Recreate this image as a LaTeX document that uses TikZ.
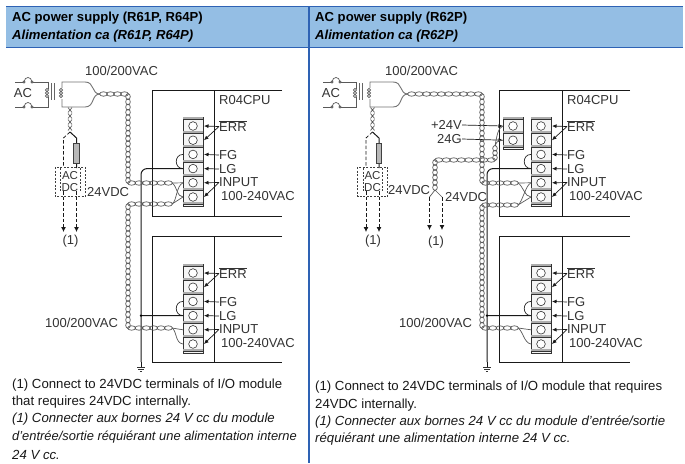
\documentclass[tikz,border=0pt]{standalone}
\usepackage{fontspec}
\setmainfont{Liberation Sans}
\usetikzlibrary{arrows.meta}
\definecolor{headblue}{HTML}{94BEE4}
\definecolor{ruleblue}{HTML}{2E62B4}
\definecolor{inkgrey}{HTML}{333333}
\tikzset{
    lbl/.style={inner sep=0pt,font=\fontsize{13}{15}\selectfont,text=inkgrey,anchor=west},
    rlbl/.style={lbl,anchor=east},
    note/.style={inner sep=0pt,font=\fontsize{13.2}{15}\selectfont,text=black!90,anchor=west},
    head/.style={inner sep=0pt,font=\bfseries\fontsize{13.1}{15}\selectfont,text=black,anchor=west},
    wire/.style={line width=1pt,black!90},
    feed/.style={line width=0.9pt,black!55},
    strand/.style={line width=0.7pt,black!65},
    dashwire/.style={line width=0.8pt,black!90,dash pattern=on 3.5pt off 2pt},
    boxdash/.style={line width=0.7pt,black!75,dash pattern=on 2pt off 1.5pt},
    point/.style={-{Latex[length=4.5pt,width=4pt]},line width=0.7pt,black!90},
}
% twisted pair, vertical and horizontal runs of links
\newcommand{\twv}[3]{%
    \pgfmathtruncatemacro{\nlink}{round(abs(#3-#2)/5.3)}
    \foreach \i in {1,...,\nlink} {
        \draw[strand] (#1,{#2+(#3-#2)*(\i-0.5)/\nlink}) ellipse [x radius=2.3,y radius={abs(#3-#2)/\nlink/2+0.4}];
    }
}
\newcommand{\twh}[3]{%
    \pgfmathtruncatemacro{\nlink}{round(abs(#3-#2)/7.2)}
    \foreach \i in {1,...,\nlink} {
        \draw[strand] ({#2+(#3-#2)*(\i-0.5)/\nlink},#1) ellipse [x radius={abs(#3-#2)/\nlink/2+0.4},y radius=2.2];
    }
}
% terminal block: name, x, top y, rows
\newcommand{\terminals}[4]{%
    \draw[line width=0.6pt,black!80,fill=black!4] (#2,#3) rectangle ({#2+20},{#3+#4*14.2+4});
    \foreach \k in {0,...,#4} {
        \fill[black!32] (#2,{#3+\k*14.2}) rectangle ({#2+20},{#3+\k*14.2+2.2});
        \draw[line width=0.5pt,black!80] (#2,{#3+\k*14.2+2.2}) -- ({#2+20},{#3+\k*14.2+2.2});
    }
    \foreach \k in {1,...,#4} {
        \draw[line width=0.6pt,black!80,fill=white] ({#2+10},{#3+\k*14.2-5.2}) circle (4.3);
        \coordinate (#1-\k) at ({#2+21},{#3+\k*14.2-5.2});
        \coordinate (#1-\k-l) at (#2,{#3+\k*14.2-5.2});
    }
}
% labelled six row block of the CPU module
\newcommand{\cpublock}[3]{%
    \terminals{#1}{#2}{#3}{6}
    \node[lbl] (#1err) at ({#2+36},{#3+9.5}) {$\overline{\mbox{ERR}}$};
    \node[lbl] (#1fg) at ({#2+36},{#3+38}) {FG};
    \node[lbl] (#1lg) at ({#2+36},{#3+52}) {LG};
    \node[lbl] (#1in) at ({#2+36},{#3+65.5}) {INPUT};
    \node[lbl] (#1vac) at ({#2+38},{#3+79.5}) {100-240VAC};
    \draw[point] (#1err.west) -- (#1-1);
    \draw[point] (#1err.west) -- (#1-2);
    \draw[point] (#1fg.west) -- (#1-3);
    \draw[point] (#1lg.west) -- (#1-4);
    \draw[point] (#1in.west) -- (#1-5);
    \draw[point] (#1in.west) -- (#1-6);
    \draw[strand,black!85] (#1-3-l) .. controls +(-9,0) and +(-9,0) .. (#1-4-l);
}
% mains side with contacts and transformer
\newcommand{\mainsside}{%
    \node[lbl,anchor=center] (ac) at (23,93) {AC};
    \draw[strand] (15,82) -- (23,82) (33,82) -- (48,82) -- (48,89) (48,97) -- (48,107) -- (33,107) (23,107) -- (15,107);
    \foreach \y in {82,107} {
        \draw[strand] (24,\y) .. controls ({24.5},{\y-6}) and ({31.5},{\y-6}) .. (32,\y);
        \draw[strand,fill=white] (24,\y) circle (1.1);
        \draw[strand,fill=white] (32,\y) circle (1.1);
    }
    \foreach \y in {90,93,96} {
        \draw[strand] (47,\y) circle (1.7);
        \draw[strand] (61,\y) circle (1.7);
    }
    \draw[line width=0.9pt,black!60] (51.5,83) -- (51.5,100) (54,83) -- (54,100);
    \draw[feed] (62,88) -- (62,82) -- (85,82) .. controls (95,82) and (91,94) .. (100,94);
    \draw[feed] (62,99) -- (62,107) -- (85,107) .. controls (95,107) and (91,94) .. (100,94);
}
% fuse, converter and the outlets to (1)
\newcommand{\dcside}{%
    \foreach \y in {110,116,122,128} {
        \draw[strand] (68,{\y-2.4}) -- (72,{\y+2.4}) (72,{\y-2.4}) -- (68,{\y+2.4});
    }
    \draw[dashwire] (70,132) -- (63.5,138) -- (63.5,167);
    \draw[wire] (70,132) -- (76.5,138) -- (76.5,143) (76.5,163) -- (76.5,168);
    \draw[strand,black!75,fill=black!28] (73.8,143) rectangle (79.2,163);
    \draw[boxdash] (55,167) rectangle (85,196.5);
    \draw[boxdash] (60.5,168) -- (60.5,192) (80,168) -- (80,192);
    \node[lbl,anchor=center,align=center,font=\fontsize{11.5}{12}\selectfont] (acdc) at (70,181.5) {AC\\DC};
    \coordinate (outa) at (63.5,191);
    \coordinate (outb) at (76.5,191);
    \coordinate (enda) at (63.5,232);
    \coordinate (endb) at (76.5,232);
    \draw[dashwire,-{Latex[length=5pt,width=5pt]}] (outa) -- (enda);
    \draw[dashwire,-{Latex[length=5pt,width=5pt]}] (outb) -- (endb);
    \node[lbl,anchor=center] (one) at (70.5,241.5) {(1)};
}
% ground at the foot of the earth wire
\newcommand{\earth}[1]{%
    \draw[wire] (#1,362) -- (#1,367);
    \draw[line width=0.7pt,black!80] ({#1-4},367) -- ({#1+4},367) ({#1-2.6},369.3) -- ({#1+2.6},369.3) ({#1-1.2},371.6) -- ({#1+1.2},371.6);
}
\begin{document}
\begin{tikzpicture}[x=1pt,y=-1pt]
    \useasboundingbox (0,0) rectangle (685,463);
    \fill[white] (0,0) rectangle (685,463);
    % table
    \fill[headblue] (6,6.5) rectangle (683,47.5);
    \draw[ruleblue,line width=1.3pt] (6,6.5) -- (683,6.5);
    \draw[ruleblue,line width=1.3pt] (6,47.5) -- (683,47.5);
    \draw[ruleblue,line width=1.3pt] (309,6.5) -- (309,463);
    \node[head] (titlea) at (12,18) {AC power supply (R61P, R64P)};
    \node[head] (titleb) at (12,36) {\itshape Alimentation ca (R61P, R64P)};
    \node[head] (titlec) at (315,18) {AC power supply (R62P)};
    \node[head] (titled) at (315,36) {\itshape Alimentation ca (R62P)};
    % notes
    \node[note] (notea) at (12,385) {(1) Connect to 24VDC terminals of I/O module};
    \node[note] (noteb) at (12,402.5) {that requires 24VDC internally.};
    \node[note] (notec) at (12,419.5) {\itshape (1) Connecter aux bornes 24 V cc du module};
    \node[note,font=\fontsize{12.9}{15}\selectfont] (noted) at (12,437) {\itshape d'entrée/sortie réquiérant une alimentation interne};
    \node[note] (notee) at (12,455) {\itshape 24 V cc.};
    \node[note] (notef) at (315,387) {(1) Connect to 24VDC terminals of I/O module that requires};
    \node[note] (noteg) at (315,405) {24VDC internally.};
    \node[note] (noteh) at (315,422) {\itshape (1) Connecter aux bornes 24 V cc du module d'entrée/sortie};
    \node[note] (notei) at (315,439) {\itshape réquiérant une alimentation interne 24 V cc.};
    % left wiring
    \begin{scope}
        \draw[wire] (282,90) -- (152,90) -- (152,216) -- (282,216);
        \draw[wire] (282,236) -- (152,236) -- (152,362) -- (282,362);
        \draw[wire] (214,90) -- (214,216) (214,236) -- (214,362);
        \node[lbl] (cpua) at (219,100) {R04CPU};
        \mainsside
        \dcside
        \node[lbl] (vaca) at (85,71) {100/200VAC};
        \node[lbl] (vacb) at (45,323) {100/200VAC};
        \node[lbl] (vdca) at (87,192) {24VDC};
        \cpublock{upa}{183}{117}
        \cpublock{loa}{183}{264}
        \draw[wire,rounded corners=6pt] (upa-4-l) -- (141,168.6) -- (141,362);
        \draw[wire] (loa-4-l) -- (141,315.6);
        \fill[black] (141,315.6) circle (1.3);
        \earth{141}
        \twh{94}{100}{128}
        \twv{128}{94}{183}
        \twh{183}{128}{172}
        \twh{204}{128}{172}
        \twv{128}{204}{328}
        \twh{328}{128}{172}
        \draw[strand] (172,183) -- (upa-5-l);
        \draw[strand] (172,183) .. controls (177,186) and (177,197) .. (upa-6-l);
        \draw[strand] (172,204) .. controls (177,201) and (176,186) .. (upa-5-l);
        \draw[strand] (172,204) -- (upa-6-l);
        \draw[strand] (172,328) -- (loa-5-l);
        \draw[strand] (172,328) .. controls (177,331) and (175,343) .. (loa-6-l);
    \end{scope}
    % right wiring
    \begin{scope}
        \draw[wire] (630,90) -- (499,90) -- (499,216) -- (630,216);
        \draw[wire] (630,236) -- (499,236) -- (499,362) -- (630,362);
        \draw[wire] (562,90) -- (562,216) (562,236) -- (562,362);
        \node[lbl] (cpub) at (567,100) {R04CPU};
        \begin{scope}[shift={(308,0)}]
            \mainsside
        \end{scope}
        \begin{scope}[shift={(302.5,0)}]
            \dcside
        \end{scope}
        \node[lbl] (vacc) at (385,71) {100/200VAC};
        \node[lbl] (vacd) at (399,323) {100/200VAC};
        \node[lbl] (vdcb) at (388,190) {24VDC};
        \node[lbl] (vdcc) at (445,197) {24VDC};
        \node[rlbl] (plus) at (462,125) {+24V};
        \node[rlbl] (zero) at (462,139) {24G};
        \terminals{psb}{503}{117}{2}
        \cpublock{upb}{531}{117}
        \cpublock{lob}{531}{264}
        \draw[point] (plus.east) -- (psb-1-l);
        \draw[point] (zero.east) -- (psb-2-l);
        \draw[wire,rounded corners=6pt] (upb-4-l) -- (487,168.6) -- (487,362);
        \draw[wire] (lob-4-l) -- (487,315.6);
        \fill[black] (487,315.6) circle (1.3);
        \earth{487}
        \twh{94}{408}{482}
        \twv{482}{94}{183}
        \twh{183}{482}{518}
        \twh{205}{482}{518}
        \twv{482}{205}{328}
        \twh{328}{482}{518}
        \twv{435}{160}{190}
        \twh{160}{435}{495}
        \twv{495}{146}{160}
        \draw[strand] (495,146) .. controls (497,140) and (500,140) .. (psb-2-l);
        \draw[strand] (495,146) .. controls (497,135) and (498,128) .. (psb-1-l);
        \coordinate (outc) at (429.5,197);
        \coordinate (outd) at (442,197);
        \coordinate (endc) at (429.5,230);
        \coordinate (endd) at (442,230);
        \draw[strand] (435,190) -- (outc);
        \draw[strand] (435,190) -- (outd);
        \draw[dashwire,-{Latex[length=5pt,width=5pt]}] (outc) -- (endc);
        \draw[dashwire,-{Latex[length=5pt,width=5pt]}] (outd) -- (endd);
        \node[lbl,anchor=center] (oneb) at (436,242) {(1)};
        \draw[strand] (518,183) -- (upb-5-l);
        \draw[strand] (518,183) .. controls (523,186) and (525,197) .. (upb-6-l);
        \draw[strand] (518,205) .. controls (523,201) and (525,186) .. (upb-5-l);
        \draw[strand] (518,205) -- (upb-6-l);
        \draw[strand] (518,328) -- (lob-5-l);
        \draw[strand] (518,328) .. controls (523,331) and (524,343) .. (lob-6-l);
    \end{scope}
\end{tikzpicture}
\end{document}
